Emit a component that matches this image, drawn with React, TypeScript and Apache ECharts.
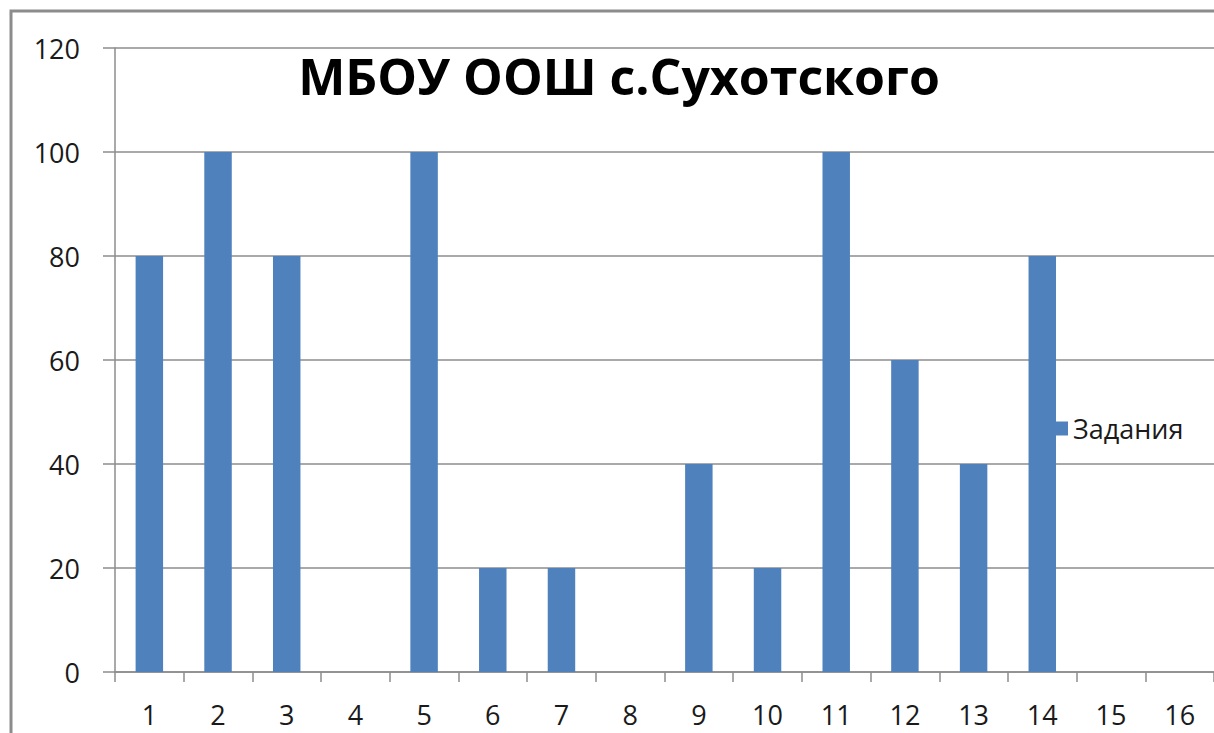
import React, { useEffect, useRef } from "react";
import * as echarts from "echarts";

const titleText = "МБОУ ООШ с.Сухотского";
const seriesName = "Задания";
const categories = ["1", "2", "3", "4", "5", "6", "7", "8", "9", "10", "11", "12", "13", "14", "15", "16"];
const values = [80, 100, 80, 0, 100, 20, 20, 0, 40, 20, 100, 60, 40, 80, 0, 0];
const yTicks = { min: 0, max: 120, interval: 20 };

const FONT = "'Open Sans', 'Liberation Sans', sans-serif";
const GRAY = "#8c8c8c";
const TEXT = "#1a1a1a";

export default function App() {
  const ref = useRef<HTMLDivElement>(null);
  useEffect(() => {
    document.body.style.margin = "0";
    if (!ref.current) return;
    const chart = echarts.init(ref.current, undefined, { renderer: "svg" });
    chart.setOption({
      animation: false,
      backgroundColor: "#ffffff",
      grid: { left: 115, top: 48, right: -2, bottom: 61, containLabel: false },
      legend: {
        show: true,
        orient: "vertical",
        left: 1049,
        top: 410,
        itemWidth: 14,
        itemHeight: 14,
        itemGap: 5,
        icon: "rect",
        data: [seriesName],
        textStyle: { fontFamily: FONT, fontSize: 27, color: TEXT, padding: [0, 0, 0, 0] },
      },
      graphic: [
        {
          type: "rect",
          shape: { x: 11, y: 11, width: 1400, height: 900 },
          style: { fill: "none", stroke: GRAY, lineWidth: 3 },
          z: 100,
          silent: true,
        },
        {
          type: "text",
          x: 619,
          y: 76,
          style: {
            text: titleText,
            font: `bold 50px ${FONT}`,
            fill: "#000000",
            textAlign: "center",
            textVerticalAlign: "middle",
          },
          z: 100,
        },
      ],
      xAxis: {
        type: "category",
        data: categories,
        boundaryGap: true,
        axisLine: { show: true, lineStyle: { color: GRAY, width: 1.5 } },
        axisTick: { show: true, length: 10, alignWithLabel: false, lineStyle: { color: GRAY, width: 1.5 } },
        axisLabel: { fontFamily: FONT, fontSize: 27, color: TEXT, margin: 29 },
        splitLine: { show: false },
      },
      yAxis: {
        type: "value",
        min: yTicks.min,
        max: yTicks.max,
        interval: yTicks.interval,
        axisLine: { show: true, lineStyle: { color: GRAY, width: 1.5 } },
        axisTick: { show: true, length: 12, lineStyle: { color: GRAY, width: 1.5 } },
        axisLabel: { fontFamily: FONT, fontSize: 27, color: TEXT, margin: 35 },
        splitLine: { show: true, lineStyle: { color: GRAY, width: 1.5 } },
      },
      series: [
        {
          name: seriesName,
          type: "bar",
          data: values,
          barWidth: "40%",
          itemStyle: { color: "#4f81bd" },
        },
      ],
    });
    return () => chart.dispose();
  }, []);
  return <div ref={ref} style={{ width: 1214, height: 733 }} />;
}
